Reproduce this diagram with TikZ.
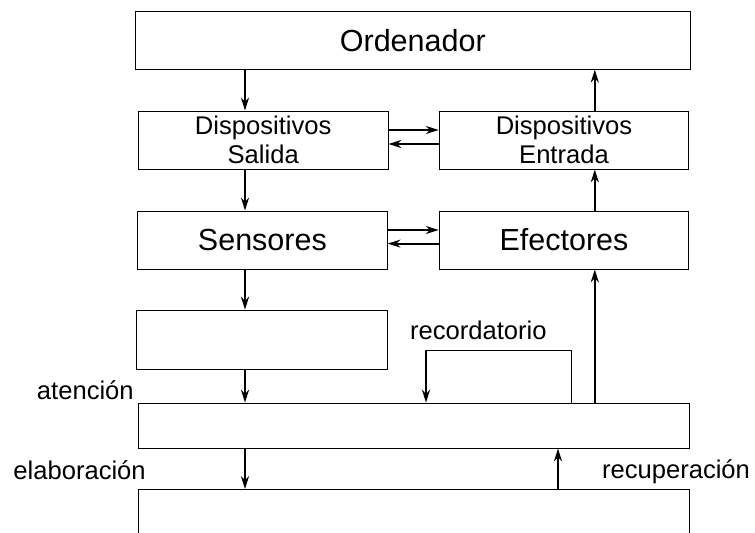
\documentclass[tikz,border=0pt]{standalone}
\usepackage{fontspec}
\setmainfont{Liberation Sans}
\usetikzlibrary{arrows.meta}
\tikzset{
    caja/.style={draw, line width=0.7pt, minimum width=6.24cm, minimum height=1.45cm,
        inner sep=0pt, align=center, font=\fontsize{18.2}{21}\selectfont} }
\tikzset{
    cajagrande/.style={caja, font=\fontsize{21.7}{26}\selectfont} }
\tikzset{
    flecha/.style={line width=1.4pt, -{Stealth[length=0.32cm,width=0.2cm,inset=0.1cm]}} }
\tikzset{
    etiq/.style={inner sep=0pt, font=\fontsize{18.2}{21}\selectfont} }

\begin{document}
\begin{tikzpicture}

  \useasboundingbox (0,0) rectangle (18.875,13.3);

% cajas
  \node[cajagrande, minimum width=13.86cm, minimum height=1.44cm] (ord) at (10.32,12.29) {Ordenador};
  \node[caja] (sal) at (6.58,9.8) {Dispositivos\\Salida};  \node[caja] (ent) at (14.1,9.8) {Dispositivos\\Entrada};
  \node[cajagrande] (sen) at (6.56,7.3) {Sensores};  \node[cajagrande] (efe) at (14.1,7.3) {Efectores};
  \node[caja, minimum width=6.28cm, minimum height=1.475cm] (vacia) at (6.54,4.81) {};
  \node[caja, minimum width=13.78cm, minimum height=1.125cm] (corto) at (10.34,2.66) {};
  \node[caja, minimum width=13.78cm, minimum height=2cm, anchor=north] (largo) at (10.34,1.075) {};

% columnas de las flechas
  \coordinate (bajada) at (6.125,0); \coordinate (subida) at (14.87,0); \coordinate (recup) at (13.95,0);
  \coordinate (lazoizq) at (10.65,4.55); \coordinate (lazoder) at (14.275,4.55);

  \draw[flecha] (ord.south -| bajada) -- (sal.north -| bajada);
  \draw[flecha] (sal.south -| bajada) -- (sen.north -| bajada);
  \draw[flecha] (sen.south -| bajada) -- (vacia.north -| bajada);
  \draw[flecha] (vacia.south -| bajada) -- (corto.north -| bajada);
  \draw[flecha] (corto.south -| bajada) -- (largo.north -| bajada);

  \draw[flecha] (ent.north -| subida) -- (ord.south -| subida);
  \draw[flecha] (efe.north -| subida) -- (ent.south -| subida);
  \draw[flecha] (corto.north -| subida) -- (efe.south -| subida);
  \draw[flecha] (largo.north -| recup) -- (corto.south -| recup);

  \draw[flecha] ([yshift=0.25cm]sal.east) -- ([yshift=0.25cm]ent.west);
  \draw[flecha] ([yshift=-0.1cm]ent.west) -- ([yshift=-0.1cm]sal.east);
  \draw[flecha] ([yshift=0.25cm]sen.east) -- ([yshift=0.25cm]efe.west);
  \draw[flecha] ([yshift=-0.09cm]efe.west) -- ([yshift=-0.09cm]sen.east);

% lazo de recordatorio
  \draw[line width=0.7pt] (corto.north -| lazoder) -- (lazoder) -- (lazoizq);
  \draw[flecha] (lazoizq) -- (corto.north -| lazoizq);

% etiquetas
  \node[etiq, anchor=base east] (aten) at (3.35,3.325) {atención};
  \node[etiq, anchor=base east] (elab) at (3.65,1.325) {elaboración};
  \node[etiq, anchor=base] (record) at (11.96,4.825) {recordatorio};
  \node[etiq, anchor=base] (recupe) at (16.9,1.34) {recuperación};

\end{tikzpicture}
\end{document}
